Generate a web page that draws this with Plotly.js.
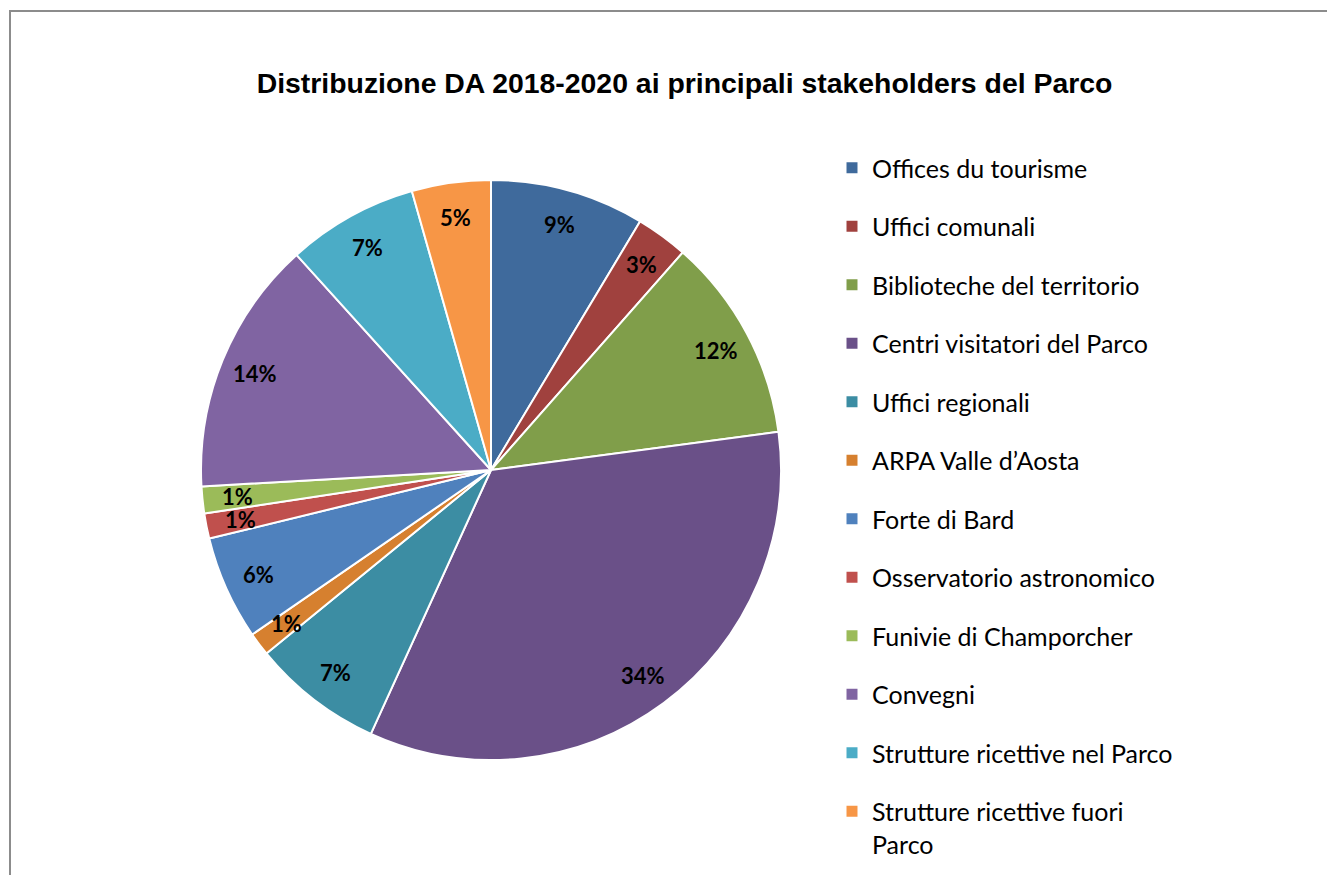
<!DOCTYPE html>
<html>
<head>
<meta charset="utf-8">
<script src="https://cdn.plot.ly/plotly-3.0.1.min.js"></script>
<style>
  html, body { margin: 0; padding: 0; background: #ffffff; overflow: hidden; }
  #chart { position: absolute; left: 0; top: 0; width: 1327px; height: 875px; }
  #frame { position: absolute; left: 9px; top: 10px; width: 1400px; height: 900px;
           border-left: 2px solid #8c8c8c; border-top: 2px solid #8c8c8c; pointer-events: none; }
</style>
</head>
<body>
<div id="chart"></div>
<div id="frame"></div>
<script>
// ---- data ----
const categories = [
  "Offices du tourisme",
  "Uffici comunali",
  "Biblioteche del territorio",
  "Centri visitatori del Parco",
  "Uffici regionali",
  "ARPA Valle d\u2019Aosta",
  "Forte di Bard",
  "Osservatorio astronomico",
  "Funivie di Champorcher",
  "Convegni",
  "Strutture ricettive nel Parco",
  "Strutture ricettive fuori Parco"
];
const legendLabels = [
  "Offices du tourisme",
  "Uffici comunali",
  "Biblioteche del territorio",
  "Centri visitatori del Parco",
  "Uffici regionali",
  "ARPA Valle d\u2019Aosta",
  "Forte di Bard",
  "Osservatorio astronomico",
  "Funivie di Champorcher",
  "Convegni",
  "Strutture ricettive nel Parco",
  "Strutture ricettive fuori<br>Parco"
];
const shares = [8.6, 2.9, 11.4, 33.9, 7.3, 1.3, 5.8, 1.4, 1.5, 14.2, 7.3, 4.4];
const shareLabels = ["9%", "3%", "12%", "34%", "7%", "1%", "6%", "1%", "1%", "14%", "7%", "5%"];
const colors = ["#3F6A9C", "#A0413E", "#809E4A", "#6A5088", "#3C8DA3", "#D6802F",
                "#4F81BD", "#C0504D", "#9BBB59", "#8064A2", "#4BACC6", "#F79646"];
const chartTitle = "Distribuzione DA 2018-2020 ai principali stakeholders del Parco";

// ---- layout geometry ----
const W = 1327, H = 875;
const cx = 491, cy = 470, R = 290;
const domX = [(cx - R) / W, (cx + R) / W];
const domY = [1 - (cy + R) / H, 1 - (cy - R) / H];
const labelRadius = 0.88;

// label positions derived from the values (mid-angle of each slice, clockwise from top)
const total = shares.reduce((a, b) => a + b, 0);
const annotations = [];
let cum = 0;
shares.forEach((v, i) => {
  const mid = (cum + v / 2) / total * 2 * Math.PI;
  annotations.push({
    xref: "x", yref: "y",
    x: labelRadius * Math.sin(mid),
    y: labelRadius * Math.cos(mid),
    text: "<b>" + shareLabels[i] + "</b>",
    showarrow: false,
    xanchor: "center", yanchor: "middle",
    height: 22,
    valign: "middle",
    font: { family: "Lato, 'Open Sans', sans-serif", size: 22, color: "#000000" }
  });
  cum += v;
});

const traces = [];
traces.push({
  type: "pie",
  labels: categories,
  values: shares,
  sort: false,
  direction: "clockwise",
  rotation: 0,
  marker: { colors: colors, line: { color: "#ffffff", width: 2 } },
  textinfo: "none",
  hoverinfo: "label+percent",
  showlegend: false,
  domain: { x: domX, y: domY }
});
categories.forEach((c, i) => {
  traces.push({
    type: "scatter",
    mode: "markers",
    x: [null], y: [null],
    name: legendLabels[i],
    legendgroup: "g" + i,
    marker: { symbol: "square", size: 11, color: colors[i] },
    hoverinfo: "skip",
    showlegend: true
  });
});

const layout = {
  width: W, height: H,
  margin: { l: 0, r: 0, t: 0, b: 0 },
  paper_bgcolor: "#ffffff",
  plot_bgcolor: "rgba(0,0,0,0)",
  title: {
    text: "<b>" + chartTitle + "</b>",
    font: { family: "'Liberation Sans', Arial, sans-serif", size: 28.4, color: "#000000" },
    x: 684.5 / W, xanchor: "center",
    y: 1 - 83 / H, yanchor: "middle",
    xref: "paper", yref: "container"
  },
  xaxis: { domain: domX, range: [-1, 1], visible: false, fixedrange: true },
  yaxis: { domain: domY, range: [-1, 1], visible: false, fixedrange: true },
  annotations: annotations,
  showlegend: true,
  legend: {
    x: 832 / W, xanchor: "left",
    y: 1 - 145 / H, yanchor: "top",
    font: { family: "Lato, 'Open Sans', sans-serif", size: 25, color: "#000000" },
    tracegroupgap: 23,
    valign: "top",
    bgcolor: "rgba(0,0,0,0)",
    borderwidth: 0
  }
};

Plotly.newPlot("chart", traces, layout, { displayModeBar: false, staticPlot: true });
</script>
</body>
</html>
